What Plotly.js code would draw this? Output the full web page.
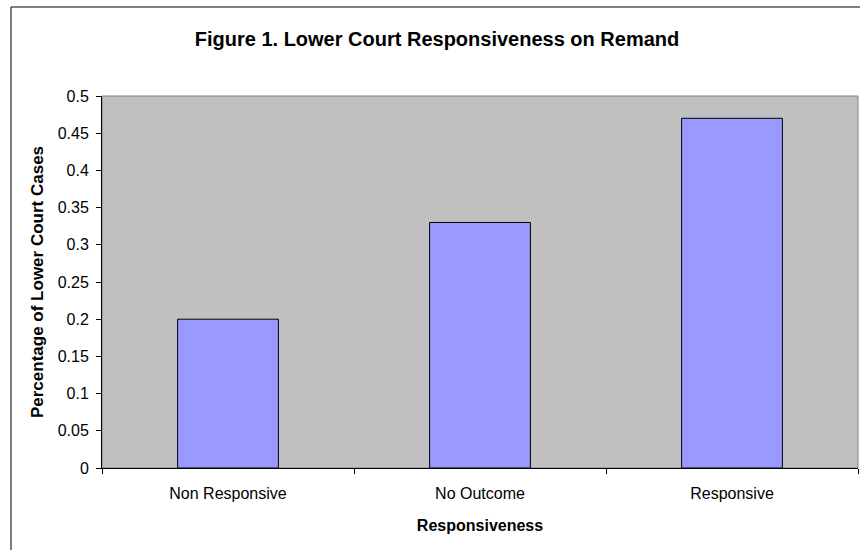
<!DOCTYPE html>
<html>
<head>
<meta charset="utf-8">
<script src="https://cdn.plot.ly/plotly-3.0.1.min.js"></script>
<style>
html,body{margin:0;padding:0;background:#fff;}
#chart{width:860px;height:550px;}
</style>
</head>
<body>
<div id="chart"></div>
<script>
const categories = ["Non Responsive", "No Outcome", "Responsive"];
const values = [0.2, 0.33, 0.47];
const yTicks = [0, 0.05, 0.1, 0.15, 0.2, 0.25, 0.3, 0.35, 0.4, 0.45, 0.5];
const yTickLabels = ["0", "0.05", "0.1", "0.15", "0.2", "0.25", "0.3", "0.35", "0.4", "0.45", "0.5"];

const FONT = "Arial, 'Liberation Sans', sans-serif";

const trace = {
  type: "bar",
  x: categories,
  y: values,
  width: 0.4,
  marker: {color: "#9999FF", line: {color: "#000000", width: 1}},
  hoverinfo: "x+y"
};

const layout = {
  width: 860,
  height: 550,
  margin: {l: 102, r: 2, t: 96, b: 82},
  paper_bgcolor: "#ffffff",
  plot_bgcolor: "#C0C0C0",
  showlegend: false,
  font: {family: FONT, size: 16, color: "#000000"},
  title: {
    text: "<b>Figure 1. Lower Court Responsiveness on Remand</b>",
    font: {family: FONT, size: 20, color: "#000"},
    x: 437/860, xref: "container", xanchor: "center",
    y: 1 - 39/550, yref: "container", yanchor: "middle"
  },
  xaxis: {
    type: "category",
    showgrid: false,
    showline: true, linecolor: "#000", linewidth: 1,
    ticks: "outside", ticklen: 5, tickcolor: "#000",
    tickson: "boundaries",
    ticklabelstandoff: 11,
    tickfont: {family: FONT, size: 16},
    range: [-0.5, 2.5],
    fixedrange: true,
    title: {text: "<b>Responsiveness</b>", font: {family: FONT, size: 16}, standoff: 18}
  },
  yaxis: {
    range: [0, 0.5],
    tickvals: yTicks,
    ticktext: yTickLabels,
    showgrid: false,
    zeroline: false,
    showline: true, linecolor: "#000", linewidth: 1,
    ticks: "outside", ticklen: 5, tickcolor: "#000",
    ticklabelstandoff: 4,
    tickfont: {family: FONT, size: 16},
    fixedrange: true,
    title: {text: "<b>Percentage of Lower Court Cases</b>", font: {family: FONT, size: 17}, standoff: 9}
  },
  shapes: [
    {type: "rect", xref: "paper", yref: "paper", x0: 0, x1: 1, y0: 0, y1: 1,
     line: {color: "#808080", width: 1}, fillcolor: "rgba(0,0,0,0)", layer: "below"},
    {type: "rect", xref: "paper", yref: "paper",
     x0: (11 - 102) / 756, x1: 1.2, y0: -0.4, y1: 1 + (96 - 7) / 372,
     line: {color: "#000", width: 1}, fillcolor: "rgba(0,0,0,0)", layer: "above"}
  ]
};

Plotly.newPlot("chart", [trace], layout, {displayModeBar: false, staticPlot: true});
</script>
</body>
</html>
